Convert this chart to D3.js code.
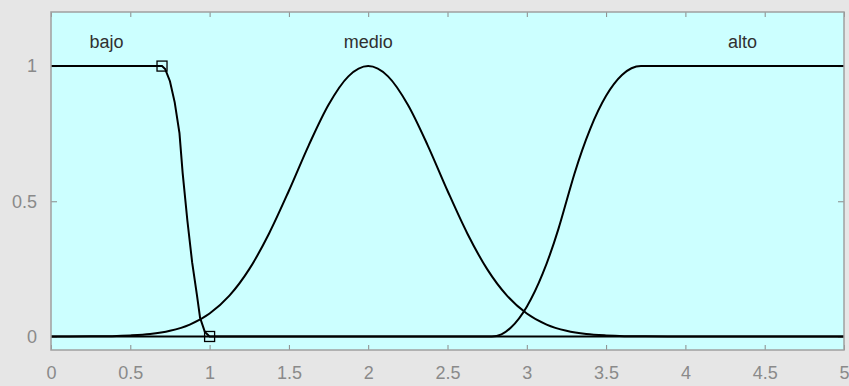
<!DOCTYPE html>
<meta charset="utf-8">
<script src="https://cdn.jsdelivr.net/npm/d3@7/dist/d3.min.js"></script>
<style>
body { margin: 0; background: #e6e6e6; }
.tick text { fill: #8a8a8a; font: 18px "Liberation Sans", Arial, sans-serif; }
.mf { fill: none; stroke: #000; stroke-width: 2px; }
.mflabel { fill: #303030; font: 18px "Liberation Sans", Arial, sans-serif; }
</style>
<body>
<script>

// membership functions
var bajoX = [0, 0.70, 0.72, 0.75, 0.78, 0.81, 0.83, 0.86, 0.89, 0.92, 0.94, 0.97, 1.0, 5];
var bajoY = [1, 1, 0.989, 0.944, 0.866, 0.752, 0.605, 0.428, 0.274, 0.154, 0.069, 0.017, 0, 0];

var medioX = [0, 0.25, 0.5, 0.625, 0.75, 0.875, 1, 1.125, 1.25, 1.375, 1.5, 1.625, 1.75, 1.875, 2,
              2.125, 2.25, 2.375, 2.5, 2.625, 2.75, 2.875, 3, 3.125, 3.25, 3.375, 3.5, 3.75, 4, 5];
var medioY = [0, 0.0005, 0.004, 0.009, 0.021, 0.044, 0.085, 0.151, 0.249, 0.381, 0.539, 0.707, 0.857, 0.962, 1,
              0.962, 0.857, 0.707, 0.539, 0.381, 0.249, 0.151, 0.085, 0.044, 0.021, 0.009, 0.004, 0.0005, 0, 0];

var altoX = [0, 2.78, 2.84, 2.9, 3.0, 3.1, 3.2, 3.25, 3.3, 3.4, 3.5, 3.6, 3.66, 3.72, 5];
var altoY = [0, 0, 0.008, 0.033, 0.11, 0.232, 0.399, 0.5, 0.601, 0.768, 0.89, 0.967, 0.992, 1, 1];

var mfNames = ["bajo", "medio", "alto"];
var labelX = [0.35, 2, 4.36];
var labelY = 1.09;

var markerX = [0.7, 1];
var markerY = [1, 0];

var xTicks = [0, 0.5, 1, 1.5, 2, 2.5, 3, 3.5, 4, 4.5, 5];
var yTicks = [0, 0.5, 1];

var width = 849, height = 386;
var margin = {left: 51, right: 844, top: 12, bottom: 350};

var x = d3.scaleLinear().domain([0, 5]).range([margin.left, margin.right]);
var y = d3.scaleLinear().domain([-0.05, 1.2]).range([margin.bottom, margin.top]);

var pw = margin.right - margin.left,
    ph = margin.bottom - margin.top;

var svg = d3.select("body").append("svg")
    .attr("width", width)
    .attr("height", height);

svg.append("defs").append("clipPath").attr("id", "plot")
  .append("rect")
    .attr("x", margin.left).attr("y", margin.top)
    .attr("width", pw).attr("height", ph);

svg.append("rect")
    .attr("x", margin.left).attr("y", margin.top)
    .attr("width", pw).attr("height", ph)
    .attr("fill", "#ccffff");

function styleAxis(g) {
  g.select(".domain").remove();
  g.selectAll(".tick line").attr("stroke", "#8a8a8a").attr("stroke-width", 1);
}

// ticks point inwards on all four sides
svg.append("g")
    .attr("transform", "translate(0," + margin.bottom + ")")
    .call(d3.axisBottom(x).tickValues(xTicks).tickSize(-5).tickPadding(16)
      .tickFormat(d3.format("")))
    .call(styleAxis);

svg.append("g")
    .attr("transform", "translate(0," + margin.top + ")")
    .call(d3.axisTop(x).tickValues(xTicks).tickSize(-5).tickFormat(""))
    .call(styleAxis);

svg.append("g")
    .attr("transform", "translate(" + margin.left + ",0)")
    .call(d3.axisLeft(y).tickValues(yTicks).tickSize(-6).tickPadding(14)
      .tickFormat(d3.format("")))
    .call(styleAxis);

svg.append("g")
    .attr("transform", "translate(" + margin.right + ",0)")
    .call(d3.axisRight(y).tickValues(yTicks).tickSize(-6).tickFormat(""))
    .call(styleAxis);

svg.selectAll("g").attr("font-family", null).attr("font-size", null);

var plot = svg.append("g").attr("clip-path", "url(#plot)");

function pts(xs, ys) { return xs.map(function(v, i) { return [v, ys[i]]; }); }

var lineLin = d3.line().x(function(d) { return x(d[0]); }).y(function(d) { return y(d[1]); });
var lineSmooth = d3.line().curve(d3.curveMonotoneX)
    .x(function(d) { return x(d[0]); }).y(function(d) { return y(d[1]); });

plot.append("path").attr("class", "mf").attr("d", lineSmooth(pts(medioX, medioY)));
plot.append("path").attr("class", "mf").attr("d", lineSmooth(pts(altoX, altoY)));
plot.append("path").attr("class", "mf").attr("d", lineLin(pts(bajoX, bajoY)));

plot.selectAll("rect.marker")
    .data(pts(markerX, markerY))
    .enter().append("rect")
    .attr("class", "marker")
    .attr("x", function(d) { return x(d[0]) - 5; })
    .attr("y", function(d) { return y(d[1]) - 5; })
    .attr("width", 10).attr("height", 10)
    .attr("fill", "none")
    .attr("stroke", "#000")
    .attr("stroke-width", 1.3);

plot.selectAll("text.mflabel")
    .data(mfNames)
    .enter().append("text")
    .attr("class", "mflabel")
    .attr("x", function(d, i) { return x(labelX[i]); })
    .attr("y", y(labelY))
    .attr("dy", "0.35em")
    .attr("text-anchor", "middle")
    .text(function(d) { return d; });

// frame
svg.append("rect")
    .attr("x", margin.left).attr("y", margin.top)
    .attr("width", pw).attr("height", ph)
    .attr("fill", "none")
    .attr("stroke", "#a0a0a0")
    .attr("stroke-width", 1.5);

</script>
</body>
